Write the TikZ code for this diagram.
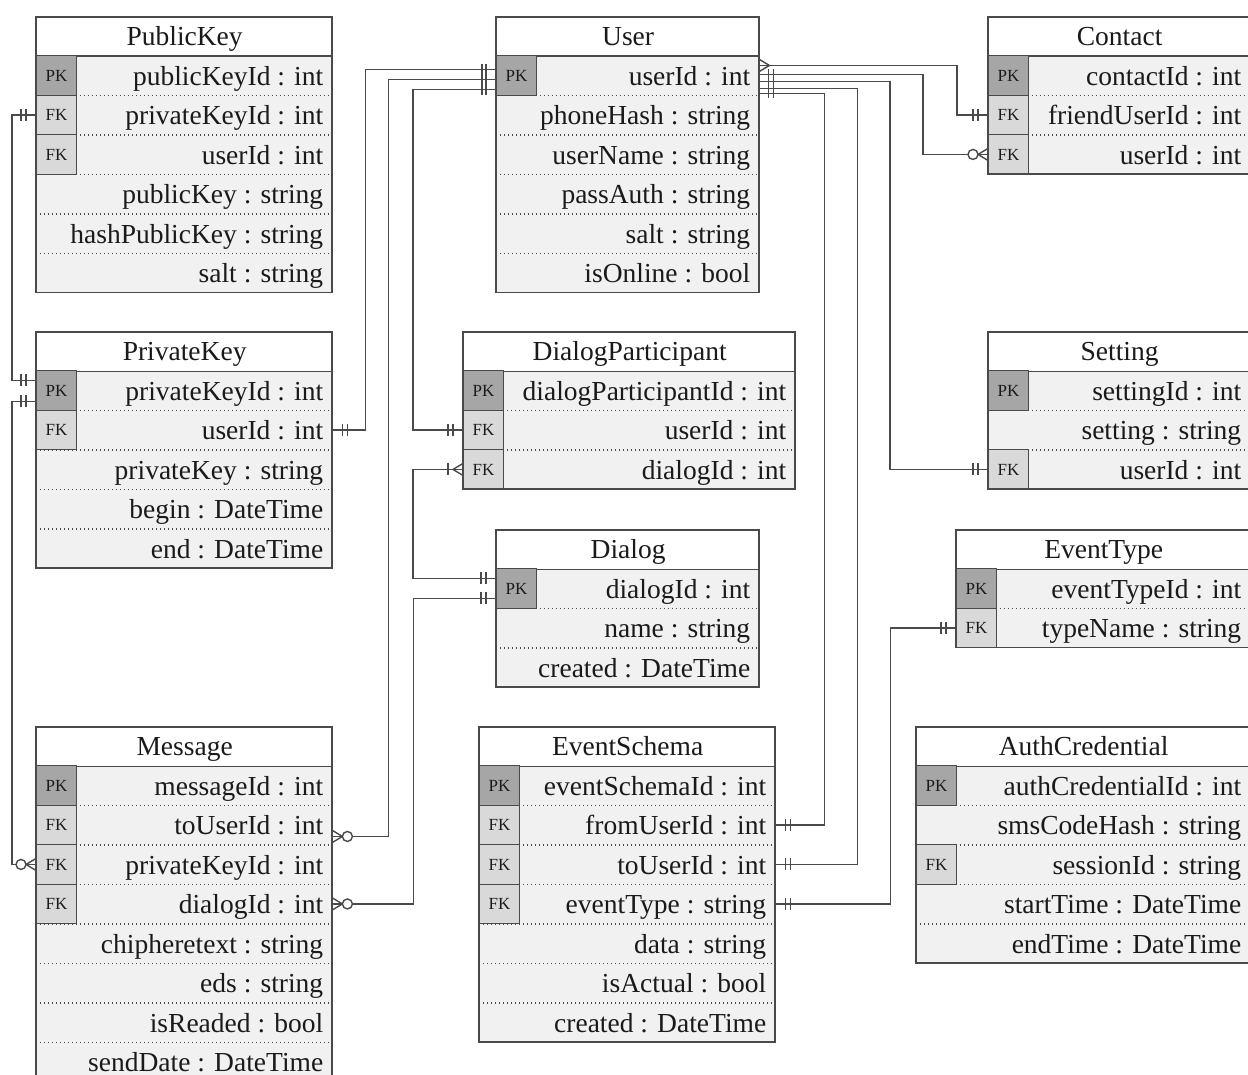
\documentclass[tikz,border=0pt]{standalone}
\usepackage{fontspec}
\setmainfont{Liberation Serif}
\usetikzlibrary{calc}
\definecolor{pkfill}{HTML}{A6A6A6}
\definecolor{fkfill}{HTML}{D9D9D9}
\definecolor{rowfill}{HTML}{F1F1F1}
\definecolor{linecol}{HTML}{4A4A4A}
\definecolor{txtcol}{HTML}{1A1A1A}
\tikzset{
  hdr/.style={rectangle, draw=linecol, line width=1.3pt, fill=white, inner sep=0pt,
    minimum height=38.5pt, text height=18pt, text depth=0pt, text=txtcol,
    font=\fontsize{27.5}{30}\selectfont},
  rowbox/.style={rectangle, draw=none, inner sep=0pt, minimum height=39.5pt},
  rowtxt/.style={inner sep=0pt, text=txtcol, font=\fontsize{27.5}{30}\selectfont},
  keybox/.style={rectangle, draw=linecol, line width=1pt, inner sep=0pt,
    minimum width=40pt, minimum height=39.5pt, text=txtcol,
    font=\fontsize{17}{17}\selectfont},
  sepline/.style={draw=linecol, line width=1.4pt, dash pattern=on 1.4pt off 2.6pt},
  tborder/.style={draw=linecol, line width=1.3pt},
  conn/.style={draw=linecol, line width=1.4pt},
}
\newcommand\ertable[7]{%
  \pgfmathsetmacro\erW{#4-#2}%
  \pgfmathsetmacro\erH{#3+38.5}%
  \pgfmathsetmacro\erB{#3+38.5+#6*39.5}%
  \fill[rowfill] (#2,\erH) rectangle (#4,\erB);
  \node[hdr, minimum width=\erW pt, anchor=north west] (#1-h) at (#2,#3) {#5};
  \foreach[count=\i] \k/\t in {#7}{%
    \pgfmathsetmacro\ytop{#3+38.5+(\i-1)*39.5}%
    \node[rowbox, minimum width=\erW pt, anchor=north west] (#1-\i) at (#2,\ytop) {};
    \node[rowtxt, anchor=base east] (#1-\i-t) at ($(#1-\i.east)+(-9,10)$) {\t};
    \ifnum\i<#6\relax \draw[sepline] (#1-\i.south west) -- (#1-\i.south east);\fi
    \edef\tmpk{\k}\def\tmpn{N}\def\tmpp{PK}%
    \ifx\tmpk\tmpn\else
      \ifx\tmpk\tmpp\def\kfill{pkfill}\else\def\kfill{fkfill}\fi
      \node[keybox, fill=\kfill, anchor=west] (#1-\i-k) at (#1-\i.west) {\k};
    \fi
  }%
  \draw[tborder] (#2,#3) rectangle (#4,\erB);
}
% markers: #1 point on entity edge, #2 direction (+1 = line leaves to the right)
\newcommand\mOne[2]{\draw[conn] ($(#1)+(#2*10,-6)$) -- ($(#1)+(#2*10,6)$) ($(#1)+(#2*15,-6)$) -- ($(#1)+(#2*15,6)$);}
\newcommand\mFoot[2]{\draw[conn] ($(#1)+(#2*10,0)$) -- ($(#1)+(0,-6)$) ($(#1)+(#2*10,0)$) -- ($(#1)+(0,6)$);}
\newcommand\mZeroMany[2]{\mFoot{#1}{#2}\draw[conn, fill=white] ($(#1)+(#2*15,0)$) circle[radius=5pt];}
\newcommand\mOneMany[2]{\mFoot{#1}{#2}\draw[conn] ($(#1)+(#2*15,-6)$) -- ($(#1)+(#2*15,6)$);}
\begin{document}
\begin{tikzpicture}[x=1pt,y=-1pt]
\useasboundingbox (0,0) rectangle (1248,1075);
\fill[white] (0,0) rectangle (1248,1075);
\clip (0,0) rectangle (1248,1075);

\ertable{PublicKey}{36}{17}{332}{PublicKey}{6}{PK/publicKeyId : int,FK/privateKeyId : int,FK/userId : int,N/publicKey : string,N/hashPublicKey : string,N/salt : string}
\ertable{User}{496}{17}{759}{User}{6}{PK/userId : int,N/phoneHash : string,N/userName : string,N/passAuth : string,N/salt : string,N/isOnline : bool}
\ertable{Contact}{988}{17}{1250}{Contact}{3}{PK/contactId : int,FK/friendUserId : int,FK/userId : int}
\ertable{PrivateKey}{36}{332}{332}{PrivateKey}{5}{PK/privateKeyId : int,FK/userId : int,N/privateKey : string,N/begin : DateTime,N/end : DateTime}
\ertable{DialogParticipant}{463}{332}{795}{DialogParticipant}{3}{PK/dialogParticipantId : int,FK/userId : int,FK/dialogId : int}
\ertable{Setting}{988}{332}{1250}{Setting}{3}{PK/settingId : int,N/setting : string,FK/userId : int}
\ertable{Dialog}{496}{530}{759}{Dialog}{3}{PK/dialogId : int,N/name : string,N/created : DateTime}
\ertable{EventType}{956}{530}{1250}{EventType}{2}{PK/eventTypeId : int,FK/typeName : string}
\ertable{Message}{36}{727}{332}{Message}{8}{PK/messageId : int,FK/toUserId : int,FK/privateKeyId : int,FK/dialogId : int,N/chipheretext : string,N/eds : string,N/isReaded : bool,N/sendDate : DateTime}
\ertable{EventSchema}{479}{727}{775}{EventSchema}{7}{PK/eventSchemaId : int,FK/fromUserId : int,FK/toUserId : int,FK/eventType : string,N/data : string,N/isActual : bool,N/created : DateTime}
\ertable{AuthCredential}{916}{727}{1250}{AuthCredential}{5}{PK/authCredentialId : int,N/smsCodeHash : string,FK/sessionId : string,N/startTime : DateTime,N/endTime : DateTime}

% connector end points
\coordinate (cPrivA) at ($(PrivateKey-1.west)+(0,-10)$);
\coordinate (cPrivB) at ($(PrivateKey-1.west)+(0,11)$);
\coordinate (cUserL1) at ($(User-1.west)+(0,-6)$);
\coordinate (cUserL2) at ($(User-1.west)+(0,4)$);
\coordinate (cUserL3) at ($(User-1.west)+(0,14)$);
\coordinate (cUserR1) at ($(User-1.east)+(0,-10)$);
\coordinate (cUserR2) at ($(User-1.east)+(0,-1)$);
\coordinate (cUserR3) at ($(User-1.east)+(0,6)$);
\coordinate (cUserR4) at ($(User-1.east)+(0,13)$);
\coordinate (cUserR5) at ($(User-1.east)+(0,18)$);
\coordinate (cMsgTo) at ($(Message-2.east)+(0,11.5)$);
\coordinate (cDlgA) at ($(Dialog-1.west)+(0,-10)$);
\coordinate (cDlgB) at ($(Dialog-1.west)+(0,10)$);

% connectors
\draw[conn] (PublicKey-2.west) -| ($(cPrivA)+(-24,0)$) -- (cPrivA);
\draw[conn] (cPrivB) -| ($(Message-3.west)+(-24,0)$) -- (Message-3.west);
\draw[conn] (PrivateKey-2.east) -- ++(33,0) |- (cUserL1);
\draw[conn] (cUserL2) -| ($(cMsgTo)+(56,0)$) -- (cMsgTo);
\draw[conn] (cUserL3) -| ($(DialogParticipant-2.west)+(-50,0)$) -- (DialogParticipant-2.west);
\draw[conn] (DialogParticipant-3.west) -- ++(-50,0) |- (cDlgA);
\draw[conn] (cDlgB) -| ($(Message-4.east)+(81,0)$) -- (Message-4.east);
\draw[conn] (cUserR1) -| ($(Contact-2.west)+(-31,0)$) -- (Contact-2.west);
\draw[conn] (cUserR2) -| ($(Contact-3.west)+(-65,0)$) -- (Contact-3.west);
\draw[conn] (cUserR3) -| ($(Setting-3.west)+(-98,0)$) -- (Setting-3.west);
\draw[conn] (cUserR4) -| ($(EventSchema-3.east)+(82,0)$) -- (EventSchema-3.east);
\draw[conn] (cUserR5) -| ($(EventSchema-2.east)+(49,0)$) -- (EventSchema-2.east);
\draw[conn] (EventType-2.west) -| ($(EventSchema-4.east)+(115,0)$) -- (EventSchema-4.east);

% markers
\mOne{PublicKey-2.west}{-1}
\mOne{cPrivA}{-1}
\mOne{cPrivB}{-1}
\mZeroMany{Message-3.west}{-1}
\mOne{PrivateKey-2.east}{1}
\draw[conn] ($(User-1.west)+(-10,-11)$) -- ($(User-1.west)+(-10,20)$)
            ($(User-1.west)+(-14,-11)$) -- ($(User-1.west)+(-14,20)$);
\mZeroMany{cMsgTo}{1}
\mOne{DialogParticipant-2.west}{-1}
\mOneMany{DialogParticipant-3.west}{-1}
\mOne{cDlgA}{-1}
\mOne{cDlgB}{-1}
\mZeroMany{Message-4.east}{1}
\mFoot{cUserR1}{1}
\draw[conn] ($(User-1.east)+(9,-6)$) -- ($(User-1.east)+(9,23)$)
            ($(User-1.east)+(14,-6)$) -- ($(User-1.east)+(14,23)$);
\mOne{Contact-2.west}{-1}
\mZeroMany{Contact-3.west}{-1}
\mOne{Setting-3.west}{-1}
\mOne{EventSchema-2.east}{1}
\mOne{EventSchema-3.east}{1}
\mOne{EventSchema-4.east}{1}
\mOne{EventType-2.west}{-1}
\end{tikzpicture}
\end{document}
